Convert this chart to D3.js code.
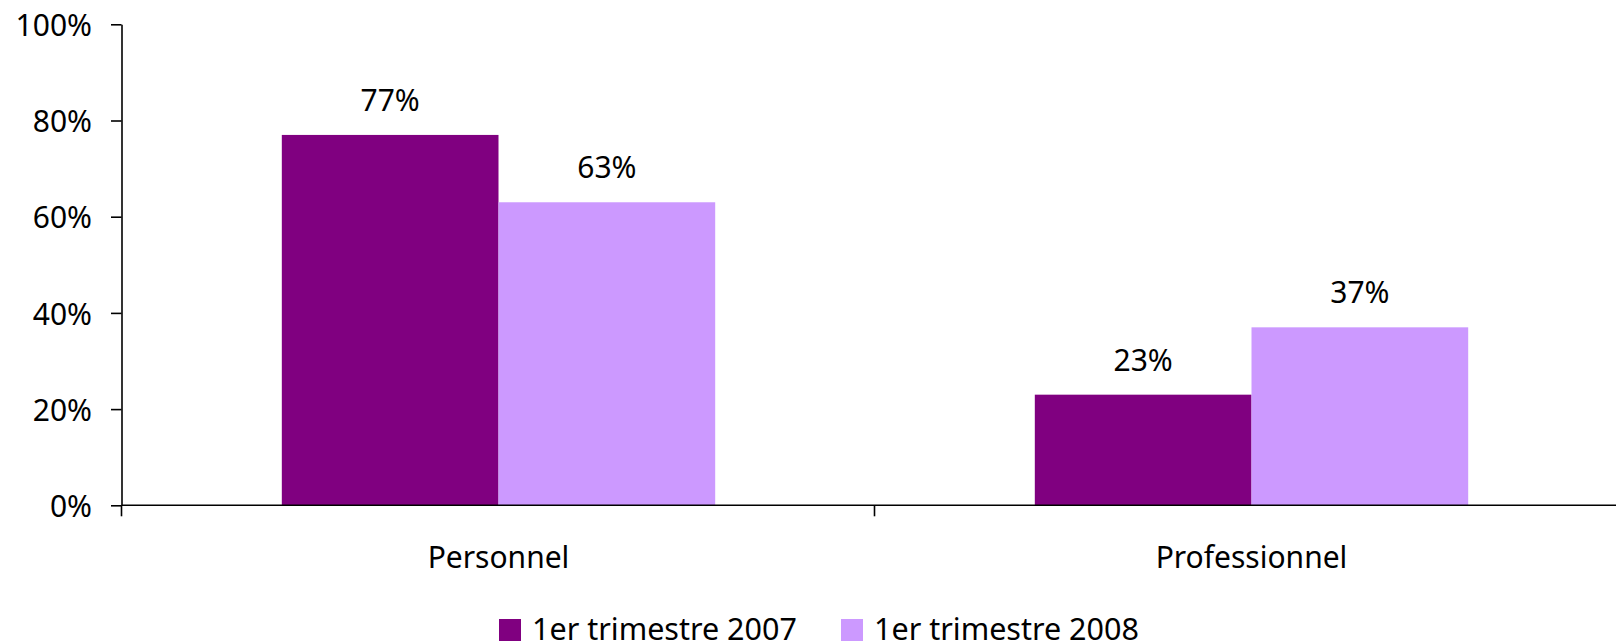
<!DOCTYPE html>
<html>
<head>
<meta charset="utf-8">
<script src="https://cdn.jsdelivr.net/npm/d3@7"></script>
<style>
  html, body { margin: 0; padding: 0; background: #fff; }
  svg { display: block; font-family: "Noto Sans", "Open Sans", sans-serif; }
</style>
</head>
<body>
<svg id="chart" width="1616" height="644"></svg>
<script>
// Data
const categories = ["Personnel", "Professionnel"];
const seriesNames = ["1er trimestre 2007", "1er trimestre 2008"];
const values2007 = [77, 23];
const values2008 = [63, 37];
const yTicks = [0, 20, 40, 60, 80, 100];
const seriesColors = ["#800080", "#CC99FF"];

const seriesValues = [values2007, values2008];
const rows = categories.map((c, i) => ({
  category: c,
  bars: seriesNames.map((s, j) => ({ series: s, value: seriesValues[j][i], color: seriesColors[j] }))
}));

const svg = d3.select("#chart");
const fontSize = 30;

// Plot area (the category axis runs slightly past the right edge of the canvas)
const plotLeft = 122, plotRight = 1628, plotTop = 24.3, plotBottom = 505.3;

const x0 = d3.scaleBand().domain(categories).range([plotLeft, plotRight]).paddingInner(0).paddingOuter(0);
const x1 = d3.scaleBand().domain(seriesNames).range([0, x0.bandwidth()]).paddingInner(0).paddingOuter(0.7375);
const y = d3.scaleLinear().domain([0, 100]).range([plotBottom, plotTop]);

// Bars
const groups = svg.append("g").selectAll("g")
  .data(rows).join("g")
  .attr("transform", d => `translate(${x0(d.category)},0)`);

groups.selectAll("rect")
  .data(d => d.bars).join("rect")
  .attr("x", d => x1(d.series))
  .attr("y", d => y(d.value))
  .attr("width", x1.bandwidth())
  .attr("height", d => y(0) - y(d.value))
  .attr("fill", d => d.color);

// Value labels
groups.selectAll("text.value")
  .data(d => d.bars).join("text")
  .attr("class", "value")
  .attr("x", d => x1(d.series) + x1.bandwidth() / 2)
  .attr("y", d => y(d.value) - 24)
  .attr("text-anchor", "middle")
  .attr("font-size", fontSize)
  .attr("fill", "#000")
  .text(d => d.value + "%");

// Y axis
const yAxis = d3.axisLeft(y)
  .tickValues(yTicks)
  .tickSize(10.5)
  .tickSizeOuter(0)
  .tickPadding(19)
  .tickFormat(d => d + "%");

const gy = svg.append("g")
  .attr("transform", `translate(${plotLeft - 0.5},0)`)
  .call(yAxis);
gy.select(".domain").attr("stroke", "#000").attr("stroke-width", 1.6);
gy.selectAll(".tick line").attr("stroke", "#000").attr("stroke-width", 1.6);
gy.selectAll(".tick text")
  .attr("font-size", fontSize)
  .attr("font-family", "Noto Sans, Open Sans, sans-serif")
  .attr("fill", "#000")
  .attr("dy", "0.37em");

// X axis: baseline, separators between categories, and category labels
const gx = svg.append("g");
gx.append("line")
  .attr("x1", plotLeft - 0.5).attr("x2", plotRight)
  .attr("y1", y(0)).attr("y2", y(0))
  .attr("stroke", "#000").attr("stroke-width", 1.6);

const boundaries = categories.map(c => x0(c)).concat([x0(categories[categories.length - 1]) + x0.step()]);
gx.selectAll("line.sep")
  .data(boundaries).join("line")
  .attr("class", "sep")
  .attr("x1", d => d - 0.5).attr("x2", d => d - 0.5)
  .attr("y1", y(0)).attr("y2", y(0) + 11)
  .attr("stroke", "#000").attr("stroke-width", 1.6);

gx.selectAll("text.cat")
  .data(categories).join("text")
  .attr("class", "cat")
  .attr("x", d => x0(d) + x0.bandwidth() / 2)
  .attr("y", 568)
  .attr("text-anchor", "middle")
  .attr("font-size", fontSize)
  .attr("fill", "#000")
  .text(d => d);

// Legend along the bottom edge
const legendX = [499, 841];
const legend = svg.append("g").selectAll("g")
  .data(seriesNames).join("g")
  .attr("transform", (d, i) => `translate(${legendX[i]},619)`);
legend.append("rect")
  .attr("width", 22).attr("height", 22)
  .attr("fill", (d, i) => seriesColors[i]);
legend.append("text")
  .attr("x", 33).attr("y", 21)
  .attr("font-size", 30.5)
  .attr("fill", "#000")
  .text(d => d);
</script>
</body>
</html>
